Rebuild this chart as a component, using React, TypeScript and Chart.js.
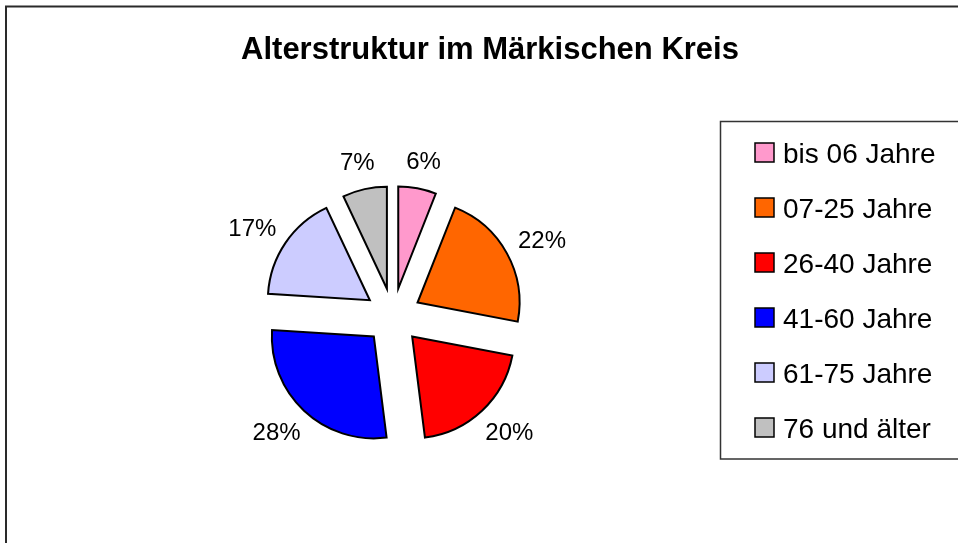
import { useEffect, useRef } from 'react';
import { Chart, registerables } from 'chart.js';

Chart.register(...registerables);

const TITLE = 'Alterstruktur im Märkischen Kreis';
const categories = ['bis 06 Jahre', '07-25 Jahre', '26-40 Jahre', '41-60 Jahre', '61-75 Jahre', '76 und älter'];
const shares = [6, 22, 20, 28, 17, 7];
const sliceColors = ['#FF99CC', '#FF6600', '#FF0000', '#0000FF', '#CCCCFF', '#C0C0C0'];

const FONT = '"Liberation Sans", Arial, Helvetica, sans-serif';
const EXPLODE = 28;

const explodePlugin = {
  id: 'explodeSlices',
  afterDatasetsUpdate(chart: any) {
    const meta = chart.getDatasetMeta(0);
    meta.data.forEach((arc: any) => {
      const mid = (arc.startAngle + arc.endAngle) / 2;
      arc.x = arc.x + Math.cos(mid) * EXPLODE;
      arc.y = arc.y + Math.sin(mid) * EXPLODE;
    });
  },
};

const chromePlugin = {
  id: 'chrome',
  beforeDraw(chart: any) {
    const ctx = chart.ctx;
    ctx.save();
    ctx.fillStyle = '#ffffff';
    ctx.fillRect(0, 0, chart.width, chart.height);
    // outer frame
    ctx.strokeStyle = '#2a2a2a';
    ctx.lineWidth = 2;
    ctx.beginPath();
    ctx.moveTo(6, chart.height + 10);
    ctx.lineTo(6, 6.5);
    ctx.lineTo(chart.width + 10, 6.5);
    ctx.stroke();
    // title
    ctx.fillStyle = '#000';
    ctx.font = `bold 31px ${FONT}`;
    ctx.textAlign = 'center';
    ctx.textBaseline = 'alphabetic';
    ctx.fillText(TITLE, 490, 58.5);
    ctx.restore();
  },
  afterDraw(chart: any) {
    const ctx = chart.ctx;
    ctx.save();
    // legend frame
    ctx.strokeStyle = '#333';
    ctx.lineWidth = 1.5;
    ctx.strokeRect(720.5, 121.5, 400, 337.5);
    ctx.font = `28px ${FONT}`;
    ctx.textAlign = 'left';
    ctx.textBaseline = 'alphabetic';
    categories.forEach((label, i) => {
      const cy = 152.5 + i * 55;
      ctx.fillStyle = sliceColors[i];
      ctx.fillRect(755, cy - 9.5, 19, 19);
      ctx.strokeStyle = '#000';
      ctx.lineWidth = 1.5;
      ctx.strokeRect(755, cy - 9.5, 19, 19);
      ctx.fillStyle = '#000';
      ctx.fillText(label, 783, cy + 10);
    });
    ctx.restore();
  },
};

const labelPlugin = {
  id: 'pctLabels',
  afterDatasetsDraw(chart: any) {
    const ctx = chart.ctx;
    const meta = chart.getDatasetMeta(0);
    const data = chart.data.datasets[0].data as number[];
    const total = data.reduce((a, b) => a + b, 0);
    ctx.save();
    ctx.font = `24px ${FONT}`;
    ctx.fillStyle = '#000';
    ctx.textAlign = 'center';
    ctx.textBaseline = 'alphabetic';
    const gap = 16;
    const h = 17;
    const vHalf = 12;
    meta.data.forEach((arc: any, i: number) => {
      const mid = (arc.startAngle + arc.endAngle) / 2;
      const c = Math.cos(mid);
      const s = Math.sin(mid);
      const text = Math.round((data[i] / total) * 100) + '%';
      const w = ctx.measureText(text).width;
      const r = arc.outerRadius + gap;
      const cx = arc.x + c * r + (c * w) / 2;
      const cy = arc.y + s * r + s * vHalf;
      ctx.fillText(text, cx, cy + h / 2);
    });
    ctx.restore();
  },
};

export default function App() {
  const ref = useRef<HTMLCanvasElement>(null);
  useEffect(() => {
    const chart = new Chart(ref.current as HTMLCanvasElement, {
      type: 'pie',
      data: {
        labels: categories,
        datasets: [
          {
            data: shares,
            backgroundColor: sliceColors,
            borderColor: '#000',
            borderWidth: 2,
            borderJoinStyle: 'miter',
            radius: 102,
          } as any,
        ],
      },
      options: {
        responsive: false,
        animation: false,
        layout: { padding: { left: 0, right: 172, top: 89, bottom: 0 } },
        plugins: {
          legend: { display: false },
          title: { display: false },
          tooltip: { enabled: false },
        },
      },
      plugins: [chromePlugin, explodePlugin, labelPlugin],
    });
    return () => chart.destroy();
  }, []);
  return (
    <div style={{ position: 'fixed', left: 0, top: 0, width: 958, height: 543, background: '#fff' }}>
      <canvas ref={ref} width={958} height={543} style={{ display: 'block' }} />
    </div>
  );
}
